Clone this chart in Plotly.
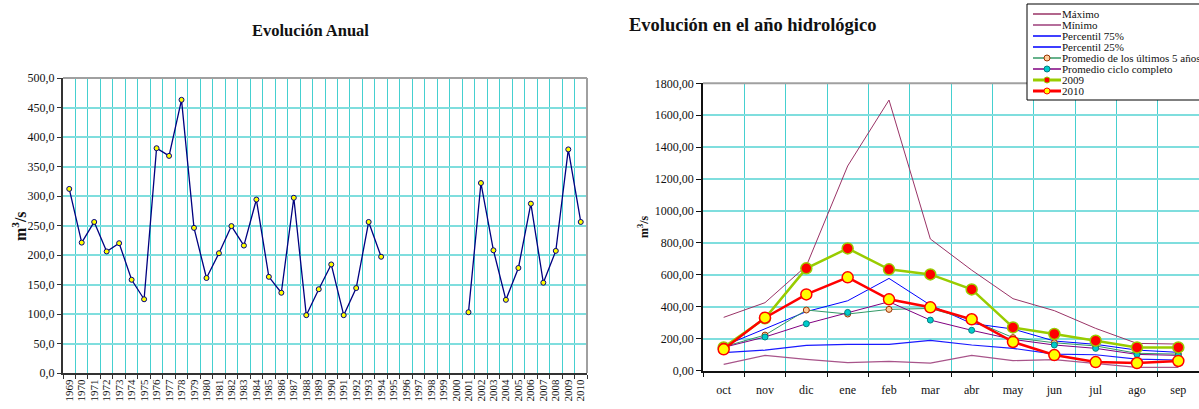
import plotly.graph_objects as go

W, H = 1199, 409

# ---- left chart: annual mean flow (m3/s) ----
years = [str(y) for y in range(1969, 2011)]
annual = [312, 221, 256, 206, 220, 158, 125, 381, 368, 463,
          246, 161, 203, 249, 216, 294, 163, 136, 297, 98,
          142, 184, 98, 144, 256, 197, None, None, None, None,
          None, None, 103, 322, 208, 124, 178, 287, 153, 207,
          379, 256]

# ---- right chart: hydrological year (m3/s) ----
months = ["oct", "nov", "dic", "ene", "feb", "mar", "abr", "may", "jun", "jul", "ago", "sep"]
maximo = [334, 426, 656, 1282, 1695, 825, 630, 451, 376, 265, 171, 167]
minimo = [40, 96, 71, 50, 58, 48, 96, 63, 69, 46, 21, 21]
p75 = [155, 265, 370, 438, 578, 411, 296, 261, 186, 165, 129, 115]
p25 = [113, 129, 159, 165, 165, 190, 161, 140, 104, 100, 73, 67]
prom5 = [150, 223, 380, 355, 384, 390, 317, 207, 175, 155, 109, 104]
prom_ciclo = [146, 211, 294, 365, 432, 317, 253, 196, 161, 140, 102, 96]
y2009 = [146, 328, 641, 766, 635, 603, 509, 271, 230, 188, 146, 146]
y2010 = [134, 332, 478, 585, 447, 397, 322, 180, 98, 54, 48, 61]

SERIF = "Liberation Serif, Times New Roman, serif"
GRID_H = "#7fdede"
GRID_V = "#45d0d0"


def px(x):
    return x / W


def py(y):
    return 1 - y / H


fig = go.Figure()

fig.add_trace(go.Scatter(
    x=years, y=annual, mode="lines+markers", connectgaps=False,
    line=dict(color="#000080", width=1.3),
    marker=dict(size=5, color="#FFFF00", line=dict(color="#000080", width=1)),
    xaxis="x", yaxis="y", showlegend=False, name="Anual",
))

series = [
    ("Máximo", maximo, dict(color="#993366", width=1), None),
    ("Mínimo", minimo, dict(color="#a8548a", width=1.2), None),
    ("Percentil 75%", p75, dict(color="#0000FF", width=1), None),
    ("Percentil 25%", p25, dict(color="#1a1aff", width=1.2), None),
    ("Promedio de los últimos 5 años", prom5, dict(color="#339966", width=1),
     dict(size=6, color="#FFCC99", line=dict(color="#993300", width=1))),
    ("Promedio ciclo completo", prom_ciclo, dict(color="#800080", width=1),
     dict(size=6, color="#00CCCC", line=dict(color="#008080", width=1))),
    ("2009", y2009, dict(color="#99CC00", width=2.5),
     dict(size=11, color="#FF0000", line=dict(color="#99CC00", width=1.5))),
    ("2010", y2010, dict(color="#FF0000", width=2.5),
     dict(size=11, color="#FFFF00", line=dict(color="#FF0000", width=1.5))),
]

for name, vals, line, marker in series:
    fig.add_trace(go.Scatter(
        x=months, y=vals, mode="lines+markers" if marker else "lines",
        line=line, marker=marker, name=name,
        xaxis="x2", yaxis="y2", showlegend=False,
    ))

tick_font = dict(family=SERIF, size=12, color="#111")

fig.update_layout(
    width=W, height=H,
    margin=dict(l=0, r=0, t=0, b=0, autoexpand=False),
    paper_bgcolor="white", plot_bgcolor="white",
    separators=",.",
    font=dict(family=SERIF, color="#111"),
    xaxis=dict(
        domain=[px(63), px(587)], anchor="y", type="category", automargin=False,
        range=[-0.5, len(years) - 0.5], tickson="boundaries",
        tickmode="array", tickvals=years, ticktext=years,
        ticks="outside", ticklen=4, tickcolor="#333", tickangle=-90,
        tickfont=dict(family=SERIF, size=11, color="#111"),
        showgrid=True, gridcolor=GRID_V, gridwidth=1,
        showline=True, linecolor="#333", linewidth=2,
    ),
    yaxis=dict(
        domain=[py(373), py(78)], anchor="x", automargin=False,
        range=[0, 500], dtick=50, tickformat=".1f",
        ticks="outside", ticklen=4, tickcolor="#333", tickfont=tick_font,
        showgrid=True, gridcolor=GRID_H, gridwidth=2, zeroline=False,
        showline=True, linecolor="#333", linewidth=2,
    ),
    xaxis2=dict(
        domain=[px(703), 1], anchor="y2", type="category", automargin=False,
        range=[-0.5, len(months) - 0.5], tickson="boundaries",
        ticks="outside", ticklen=5, tickcolor="#111",
        ticklabelstandoff=7, tickfont=tick_font,
        showgrid=True, gridcolor=GRID_V, gridwidth=1,
        showline=True, linecolor="#111", linewidth=1.5,
    ),
    yaxis2=dict(
        domain=[py(370.7), py(83.3)], anchor="x2", automargin=False,
        range=[0, 1800], dtick=200, tickformat=".2f",
        ticks="outside", ticklen=5, tickcolor="#111", tickfont=tick_font,
        showgrid=True, gridcolor=GRID_H, gridwidth=1.5, zeroline=False,
        showline=True, linecolor="#111", linewidth=1.5,
    ),
)

# gray top / right frame of the plot areas
fig.add_shape(type="line", xref="x domain", yref="y domain", x0=0, x1=1, y0=1, y1=1,
              line=dict(color="#a0a0a0", width=2))
fig.add_shape(type="line", xref="x domain", yref="y domain", x0=1, x1=1, y0=0, y1=1,
              line=dict(color="#a0a0a0", width=2))
fig.add_shape(type="line", xref="x2 domain", yref="y2 domain", x0=0, x1=1, y0=1, y1=1,
              line=dict(color="#a0a0a0", width=2))

# titles
fig.add_annotation(text="<b>Evolución Anual</b>", xref="paper", yref="paper",
                   x=px(310), y=py(31), xanchor="center", yanchor="middle",
                   showarrow=False, font=dict(family=SERIF, size=16.5, color="#111"))
fig.add_annotation(text="<b>Evolución en el año hidrológico</b>", xref="paper", yref="paper",
                   x=px(627), y=py(25), xanchor="left", yanchor="middle",
                   showarrow=False, font=dict(family=SERIF, size=18.5, color="#111"))

# axis titles
fig.add_annotation(text="<b>m<sup>3</sup>/s</b>", xref="paper", yref="paper",
                   x=px(19), y=py(226), xanchor="center", yanchor="middle", textangle=-90,
                   showarrow=False, font=dict(family=SERIF, size=16, color="#111"))
fig.add_annotation(text="<b>m<sup>3</sup>/s</b>", xref="paper", yref="paper",
                   x=px(644), y=py(227), xanchor="center", yanchor="middle", textangle=-90,
                   showarrow=False, font=dict(family=SERIF, size=12, color="#111"))

# legend box (Excel style, compact)
fig.add_shape(type="rect", xref="paper", yref="paper",
              x0=px(1027), x1=px(1215), y0=py(100), y1=py(4),
              line=dict(color="black", width=1), fillcolor="white", layer="above")
for i, (name, vals, line, marker) in enumerate(series):
    yy = py(14 + 11 * i)
    fig.add_shape(type="line", xref="paper", yref="paper",
                  x0=px(1033), x1=px(1061), y0=yy, y1=yy,
                  line=dict(color=line["color"], width=line["width"] + 0.5), layer="above")
    if marker:
        r = 3
        fig.add_shape(type="circle", xref="paper", yref="paper",
                      x0=px(1047 - r), x1=px(1047 + r),
                      y0=py(14 + 11 * i + r), y1=py(14 + 11 * i - r),
                      fillcolor=marker["color"],
                      line=dict(color=marker["line"]["color"], width=1), layer="above")
    fig.add_annotation(text=name, xref="paper", yref="paper",
                       x=px(1061), y=yy, xanchor="left", yanchor="middle", borderpad=0,
                       showarrow=False, font=dict(family=SERIF, size=11, color="#111"))

# drop the default page margin so the figure sits at the window's corner
fig.write_html("out.html", config={"displayModeBar": False},
               post_script="document.body.style.margin='0';")
